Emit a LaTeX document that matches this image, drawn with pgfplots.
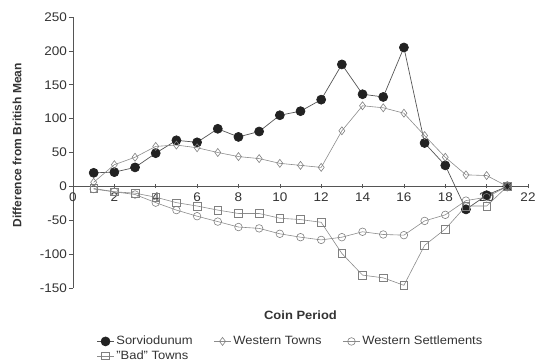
\documentclass[border=0pt]{standalone}
\usepackage{pgfplots}
\pgfplotsset{compat=1.18}
\usepackage{fontspec}
\setmainfont{Liberation Sans}[FakeStretch=1.08]
\newfontfamily\ylabfont{Liberation Sans}
\definecolor{axgray}{HTML}{555555}
\definecolor{labgray}{HTML}{333333}
\definecolor{sorvline}{HTML}{555555}
\definecolor{sorvmark}{HTML}{222222}
\definecolor{othline}{HTML}{8C8C8C}
\definecolor{othmark}{HTML}{808080}
\begin{document}
\fontsize{12bp}{14bp}\selectfont
\begin{tikzpicture}
\begin{axis}[
  at={(0,0)}, anchor=south west,
  scale only axis, width=455bp, height=271bp,
  xmin=0, xmax=22, ymin=-150, ymax=250,
  axis x line=middle, axis y line=left,
  axis line style={-, color=axgray, line width=0.7bp},
  every inner x axis line/.append style={-},
  every outer y axis line/.append style={-},
  hide obscured x ticks=false,
  xtick={0,2,...,22}, ytick={-150,-100,...,250},
  tick align=center,
  major tick length=4bp,
  tick style={color=axgray, line width=0.6bp},
  y tick style={xshift=-2bp},
  tick label style={font=\fontsize{12.5bp}{14bp}\selectfont, text=labgray},
  /pgf/number format/assume math mode=true,
  xlabel={\bfseries Coin Period},
  ylabel={\ylabfont\bfseries Difference from British Mean},
  every axis x label/.style={at={(axis description cs:0.5,0)}, yshift=-27bp, anchor=center, text=labgray},
  every axis y label/.style={at={(axis description cs:0,0.5)}, xshift=-56bp, yshift=7.5bp, rotate=90, anchor=center, text=labgray},
  clip=false,
  legend columns=3,
  legend style={at={(axis description cs:0.5,0)}, anchor=north, yshift=-44bp, xshift=-10bp,
    draw=none, fill=none, font=\fontsize{12bp}{14bp}\selectfont, text=labgray,
    /tikz/every even column/.append style={column sep=19bp},
    /tikz/column 2/.style={column sep=38bp}},
  legend cell align=left,
]
\addplot[color=sorvline, line width=0.7bp, mark=*, mark size=4.5bp,
  mark options={fill=sorvmark, draw=sorvmark, solid}] coordinates {
(1,20)(2,21)(3,28)(4,49)(5,68)(6,65)(7,85)(8,73)(9,81)(10,105)(11,111)(12,128)(13,180)(14,136)(15,132)(16,205)(17,64)(18,31)(19,-34)(20,-13)(21,0)};
\addlegendentry{Sorviodunum}
\addplot[color=othline, line width=0.6bp, mark=diamond, mark size=4bp,
  mark options={fill=white, draw=othmark, solid}] coordinates {
(1,6)(2,32)(3,43)(4,59)(5,61)(6,57)(7,50)(8,44)(9,41)(10,34)(11,31)(12,28)(13,82)(14,119)(15,116)(16,108)(17,75)(18,43)(19,17)(20,16)(21,0)};
\addlegendentry{Western Towns}
\addplot[color=othline, line width=0.6bp, mark=o, mark size=3.8bp,
  mark options={fill=white, draw=othmark, solid}] coordinates {
(1,-4)(2,-8)(3,-12)(4,-24)(5,-35)(6,-44)(7,-52)(8,-60)(9,-62)(10,-70)(11,-75)(12,-79)(13,-75)(14,-67)(15,-71)(16,-72)(17,-51)(18,-42)(19,-21)(20,-16)(21,0)};
\addlegendentry{Western Settlements}
\addplot[color=othline, line width=0.6bp, mark=square, mark size=3.8bp,
  mark options={fill=white, draw=othmark, solid}] coordinates {
(1,-3)(2,-8)(3,-10)(4,-16)(5,-24)(6,-29)(7,-35)(8,-40)(9,-40)(10,-47)(11,-49)(12,-53)(13,-99)(14,-131)(15,-135)(16,-146)(17,-87)(18,-63)(19,-29)(20,-29)(21,0)};
\addlegendentry{"Bad" Towns}
\end{axis}
\pgfresetboundingbox
\path[use as bounding box] (-73bp,-75bp) rectangle (470bp,288bp);
\end{tikzpicture}
\end{document}
